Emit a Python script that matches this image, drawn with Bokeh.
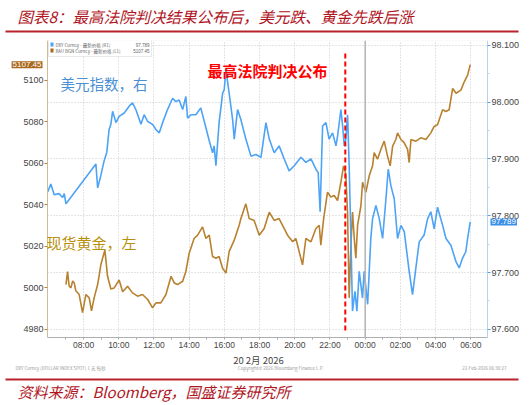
from bokeh.plotting import figure
from bokeh.layouts import column
from bokeh.models import (Range1d, LinearAxis, FixedTicker, Label, BoxAnnotation,
                          Span, Grid, NumeralTickFormatter)
from bokeh.embed import file_html
from bokeh.resources import INLINE

# ---------------- data (hours from 20 Feb 2026 00:00) ----------------
dxy_time = [5.96, 6.14, 6.33, 6.60, 6.81, 6.90, 7.00, 8.70, 8.80, 8.98,
            9.17, 9.32, 9.45, 9.55, 9.65, 9.84, 10.02, 10.31, 10.59, 10.78,
            10.97, 11.26, 11.44, 11.64, 11.92, 12.11, 12.30, 12.49, 12.77, 13.06,
            13.24, 13.43, 13.63, 13.81, 13.91, 14.10, 14.38, 14.66, 14.95, 15.14,
            15.33, 15.42, 15.52, 15.70, 15.90, 15.99, 16.09, 16.27, 16.47, 16.56,
            16.75, 16.94, 17.22, 17.51, 17.79, 18.08, 18.36, 18.55, 18.83, 19.11,
            19.40, 19.68, 19.97, 20.35, 20.63, 20.92, 21.20, 21.33, 21.44, 21.58,
            21.77, 21.95, 22.15, 22.34, 22.43, 22.62, 22.72, 22.81, 22.90, 23.00,
            23.09, 23.19, 23.28, 23.42, 23.53, 23.66, 23.85, 23.94, 24.14, 24.23,
            24.32, 24.42, 24.61, 24.80, 24.99, 25.18, 25.31, 25.46, 25.65, 25.84,
            26.03, 26.22, 26.50, 26.69, 26.88, 27.07, 27.35, 27.55, 27.73, 27.92,
            28.11, 28.40, 28.59, 28.87, 29.16, 29.34, 29.53, 29.72, 29.82, 29.97]
dxy_value = [97.842, 97.856, 97.837, 97.839, 97.832, 97.839, 97.821, 97.891, 97.849, 97.871,
             97.897, 97.912, 97.952, 97.961, 97.984, 97.964, 97.975, 97.981, 97.993, 97.999,
             97.987, 97.961, 97.978, 97.966, 97.961, 97.952, 97.946, 97.964, 97.987, 98.007,
             98.001, 98.004, 97.987, 98.010, 97.972, 97.978, 97.978, 97.990, 97.955, 97.932,
             97.911, 97.923, 97.888, 97.964, 98.016, 98.022, 98.057, 98.016, 97.969, 97.935,
             97.987, 97.969, 97.935, 97.905, 97.908, 97.903, 97.964, 97.935, 97.911, 97.923,
             97.900, 97.879, 97.888, 97.903, 97.894, 97.900, 97.882, 97.876, 97.807, 97.958,
             97.964, 97.935, 97.946, 97.923, 97.940, 97.987, 97.958, 97.923, 97.935, 97.978,
             97.888, 97.760, 97.632, 97.667, 97.632, 97.702, 97.655, 97.702, 97.644, 97.702,
             97.760, 97.795, 97.818, 97.795, 97.760, 97.830, 97.882, 97.853, 97.830, 97.760,
             97.783, 97.772, 97.702, 97.661, 97.708, 97.754, 97.766, 97.795, 97.807, 97.777,
             97.815, 97.783, 97.760, 97.748, 97.719, 97.708, 97.725, 97.737, 97.760, 97.789]

gold_time = [7.00, 7.09, 7.18, 7.28, 7.38, 7.47, 7.56, 7.75, 7.94, 8.13,
             8.32, 8.45, 8.60, 8.80, 8.89, 8.98, 9.08, 9.21, 9.36, 9.55,
             9.74, 10.02, 10.22, 10.50, 10.78, 11.07, 11.35, 11.64, 11.92, 12.11,
             12.39, 12.68, 12.97, 13.15, 13.34, 13.63, 13.81, 14.00, 14.28, 14.48,
             14.76, 14.95, 15.14, 15.33, 15.52, 15.70, 15.90, 16.09, 16.27, 16.56,
             16.84, 16.94, 17.22, 17.41, 17.69, 17.98, 18.26, 18.55, 18.83, 19.11,
             19.40, 19.59, 19.88, 20.06, 20.25, 20.44, 20.63, 20.92, 21.20, 21.39,
             21.48, 21.64, 21.86, 22.05, 22.24, 22.43, 22.62, 22.77, 22.90, 23.00,
             23.09, 23.19, 23.28, 23.38, 23.47, 23.57, 23.76, 23.85, 24.04, 24.23,
             24.42, 24.51, 24.70, 24.89, 25.08, 25.27, 25.42, 25.56, 25.74, 25.84,
             26.03, 26.22, 26.41, 26.50, 26.60, 26.88, 27.16, 27.45, 27.73, 27.92,
             28.11, 28.40, 28.59, 28.77, 28.97, 29.16, 29.44, 29.63, 29.82, 29.97]
gold_value = [5001.5, 5007.8, 5000.8, 4999.9, 5003.2, 5002.3, 4998.5, 4996.7, 4988.0, 4996.7,
              4995.1, 4988.8, 4995.1, 5001.5, 5006.2, 5011.0, 5014.2, 5018.1, 5005.6, 4999.4,
              4999.9, 5003.7, 4998.0, 5000.7, 4997.5, 4995.9, 4996.7, 4994.3, 4990.3, 4992.7,
              4992.7, 4996.7, 5005.5, 5002.3, 5001.5, 5003.1, 5007.8, 5016.6, 5023.7, 5025.3,
              5029.3, 5023.7, 5025.3, 5015.0, 5014.2, 5015.0, 5009.4, 5007.0, 5017.4, 5022.9,
              5030.1, 5033.3, 5040.4, 5033.3, 5032.4, 5025.3, 5028.5, 5036.4, 5032.4, 5033.3,
              5028.5, 5025.3, 5022.1, 5023.7, 5017.4, 5011.0, 5023.7, 5022.1, 5028.5, 5030.1,
              5020.5, 5033.3, 5046.0, 5043.7, 5044.4, 5042.0, 5050.8, 5058.7, 5054.7, 5035.6,
              4995.1, 5020.5, 5036.4, 5023.7, 5014.2, 5030.1, 5039.6, 5050.8, 5046.0, 5053.9,
              5058.7, 5065.1, 5061.9, 5066.6, 5070.6, 5063.4, 5058.7, 5068.2, 5071.4, 5074.6,
              5071.4, 5069.8, 5066.6, 5060.3, 5071.4, 5070.6, 5072.2, 5071.4, 5074.6, 5077.7,
              5078.5, 5085.7, 5084.9, 5085.7, 5096.0, 5093.7, 5095.2, 5099.2, 5102.4, 5107.45]

ruling_time = 22.87          # 22:52, Supreme Court ruling published
dxy_last = 97.789
gold_last = 5107.45
t_start, t_end = 5.95, 30.95  # visible time window

x_ticks = [8, 10, 12, 14, 16, 18, 20, 22, 24, 26, 28, 30]
x_minor = [7, 9, 11, 13, 15, 17, 19, 21, 23, 25, 27, 29]
x_labels = ["08:00", "10:00", "12:00", "14:00", "16:00", "18:00",
            "20:00", "22:00", "00:00", "02:00", "04:00", "06:00"]
left_ticks = [4980, 5000, 5020, 5040, 5060, 5080, 5100]
right_ticks = [97.6, 97.7, 97.8, 97.9, 98.0, 98.1]
right_minor = [97.65, 97.75, 97.85, 97.95, 98.05]

title_text = "图表8：最高法院判决结果公布后，美元跌、黄金先跌后涨"
source_text = "资料来源：Bloomberg，国盛证券研究所"
date_text = "20 2月 2026"

# ---------------- styling ----------------
BLUE = "#4DA3F5"
GOLD = "#B8812F"
TAG_GOLD = "#A8681E"
TAG_BLUE = "#3D8FE6"
DARKRED = "#B0151E"
LINERED = "#B8232B"
CJK = "Noto Sans CJK SC"
LAT = "Liberation Sans"
W = 531
PX_PER_H = 17.6
PLOT_LEFT = 47               # px where the visible time window starts


def nofa(f):
    try:
        f.frame_align = False
    except AttributeError:
        pass
    return f


def blank_fig(h):
    f = figure(width=W, height=h, output_backend="svg", toolbar_location=None,
               x_range=Range1d(0, W), y_range=Range1d(0, h), min_border=0,
               min_border_left=0, min_border_right=0, min_border_top=0,
               min_border_bottom=0, x_axis_type=None, y_axis_type=None,
               background_fill_color="white", border_fill_color="white")
    f.outline_line_color = None
    f.xgrid.visible = False
    f.ygrid.visible = False
    return nofa(f)


def scr_box(f, l, r, b, t, color):
    f.add_layout(BoxAnnotation(left=l, right=r, bottom=b, top=t, left_units="screen",
                               right_units="screen", top_units="screen",
                               bottom_units="screen", fill_color=color, fill_alpha=1,
                               line_alpha=0))


def scr_label(f, x, y, text, **kw):
    f.add_layout(Label(x=x, y=y, x_units="screen", y_units="screen", text=text,
                       text_baseline="middle", **kw))


# ---------- header (page y 0-35) ----------
top = blank_fig(35)
scr_label(top, 17, 20, title_text, text_font=CJK, text_font_size="15.5px",
          text_font_style="italic", text_color=DARKRED)
scr_box(top, 5, 518, 3, 5, LINERED)

# ---------- main chart (page y 35-352; frame spans full width, axes pinned) ----------
x0 = t_start - PLOT_LEFT / PX_PER_H
x1 = x0 + W / PX_PER_H
p = figure(width=W, height=317, output_backend="svg", toolbar_location=None,
           x_range=Range1d(x0, x1), y_range=Range1d(4976.0, 5119.1),
           min_border_left=0, min_border_right=0, min_border_top=5,
           min_border_bottom=12, background_fill_color="white",
           border_fill_color="white")
nofa(p)
p.outline_line_color = None
p.extra_y_ranges = {"right": Range1d(97.5855, 98.1087)}

p.xgrid.ticker = FixedTicker(ticks=x_ticks)
p.xgrid.grid_line_color = "#c8c8c8"
p.xgrid.grid_line_dash = "1 2"
p.ygrid.visible = False
try:
    p.add_layout(Grid(dimension=1, ticker=FixedTicker(ticks=right_ticks), y_range_name="right",
                      cross_bounds=(t_start, t_end), grid_line_color="#c8c8c8",
                      grid_line_dash="1 2"))
except AttributeError:
    p.segment(x0=[t_start] * len(right_ticks), x1=[t_end] * len(right_ticks),
              y0=right_ticks, y1=right_ticks, y_range_name="right",
              line_color="#c8c8c8", line_dash="1 2")
p.add_layout(BoxAnnotation(left=t_start, right=t_end, fill_alpha=0,
                           line_color="#d4d4d4", line_width=1))
p.add_layout(Span(location=24, dimension="height", line_color="#b4b4b4", line_width=1.5))

xa = p.xaxis[0]
xa.bounds = (t_start, t_end)
xa.ticker = FixedTicker(ticks=x_ticks, minor_ticks=x_minor)
xa.major_label_overrides = {t: l for t, l in zip(x_ticks, x_labels)}
xa.axis_line_color = "#a8a8a8"
xa.major_tick_line_color = "#a8a8a8"
xa.minor_tick_line_color = "#a8a8a8"
xa.major_tick_in = 0
xa.major_tick_out = 2
xa.minor_tick_in = 0
xa.minor_tick_out = 2
xa.major_label_text_font = LAT
xa.major_label_text_font_size = "8.5px"
xa.major_label_text_color = "#444444"
xa.major_label_standoff = 0

ya = p.yaxis[0]
ya.fixed_location = t_start
ya.ticker = FixedTicker(ticks=left_ticks)
ya.axis_line_color = "#D2B27A"
ya.major_tick_line_color = GOLD
ya.major_tick_in = 0
ya.major_tick_out = 3
ya.minor_tick_out = 0
ya.minor_tick_in = 0
ya.major_label_text_font = LAT
ya.major_label_text_font_size = "9px"
ya.major_label_text_color = "#444444"
ya.major_label_standoff = 1

ra = LinearAxis(y_range_name="right", fixed_location=t_end,
                ticker=FixedTicker(ticks=right_ticks, minor_ticks=right_minor),
                formatter=NumeralTickFormatter(format="0.000"))
ra.axis_line_color = "#A9D2F7"
ra.major_tick_line_color = BLUE
ra.minor_tick_line_color = "#A9D2F7"
ra.major_tick_in = 0
ra.major_tick_out = 3
ra.minor_tick_in = 0
ra.minor_tick_out = 2
ra.major_label_text_font = LAT
ra.major_label_text_font_size = "9px"
ra.major_label_text_color = "#444444"
ra.major_label_standoff = 1
p.add_layout(ra, "right")

p.line(gold_time, gold_value, line_color=GOLD, line_width=1.6)
p.line(dxy_time, dxy_value, line_color=BLUE, line_width=1.6, y_range_name="right")

p.segment(x0=[ruling_time], y0=[97.598], x1=[ruling_time], y1=[98.088],
          y_range_name="right", line_color="#FF0000", line_width=2, line_dash="5 3")

# last-value tags
p.add_layout(Label(x=PLOT_LEFT - 5, x_units="screen", y=gold_last, text=f"{gold_last:.2f}",
                   text_align="right", text_baseline="middle", text_font=LAT,
                   text_font_size="8px", text_color="white",
                   background_fill_color=TAG_GOLD, padding=1))
p.add_layout(Label(x=PLOT_LEFT + 443, x_units="screen", y=dxy_last, y_range_name="right",
                   text=f"{dxy_last:.3f}", text_align="left", text_baseline="middle",
                   text_font=LAT, text_font_size="8px", text_color="white",
                   background_fill_color=TAG_BLUE, padding=1))

# legend box
p.add_layout(BoxAnnotation(left=48, right=151, bottom=281, top=299, left_units="screen",
                           right_units="screen", top_units="screen", bottom_units="screen",
                           fill_color="white", fill_alpha=1, line_color="#bbbbbb",
                           line_width=1))
scr_box(p, 50, 53, 291, 295, BLUE)
scr_box(p, 50, 53, 285, 289, TAG_GOLD)
for sy, left_txt, right_txt in [(293, "DXY Curncy - 最新价格 (R1)", f"{dxy_last:.3f}"),
                                (287, "XAU BGN Curncy - 最新价格 (L1)", f"{gold_last:.2f}")]:
    scr_label(p, 55, sy, left_txt, text_font=CJK, text_font_size="4.5px",
              text_color="#666666")
    scr_label(p, 149, sy, right_txt, text_font=LAT, text_font_size="4.5px",
              text_color="#666666", text_align="right")

scr_label(p, 60, 254, "美元指数，右", text_font=CJK, text_font_size="14.5px",
          text_color="#4A8FD6")
scr_label(p, 46, 95, "现货黄金，左", text_font=CJK, text_font_size="15px",
          text_color="#B8900A")
scr_label(p, 207, 267, "最高法院判决公布", text_font=CJK, text_font_size="15px",
          text_color="#FF0000", text_font_style="bold")

# ---------- footer (page y 352-404) ----------
bot = blank_fig(52)
scr_label(bot, 258, 45, date_text, text_font=CJK, text_font_size="9.5px",
          text_color="#444444", text_align="center")
for sx, txt, align in [(15, "DXY Curncy (DOLLAR INDEX SPOT) 1 天 每秒", "left"),
                       (280, "Copyright© 2026 Bloomberg Finance L.P.", "center"),
                       (506, "22-Feb-2026 06:30:27", "right")]:
    scr_label(bot, sx, 37, txt, text_font=CJK, text_font_size="4.5px",
              text_color="#999999", text_align=align)
scr_box(bot, 5, 518, 24, 26, LINERED)
scr_label(bot, 17, 13, source_text, text_font=CJK, text_font_size="15px",
          text_font_style="italic", text_color=DARKRED)

page = column(top, p, bot, spacing=0)
open("out.html", "w").write(file_html(page, INLINE))
